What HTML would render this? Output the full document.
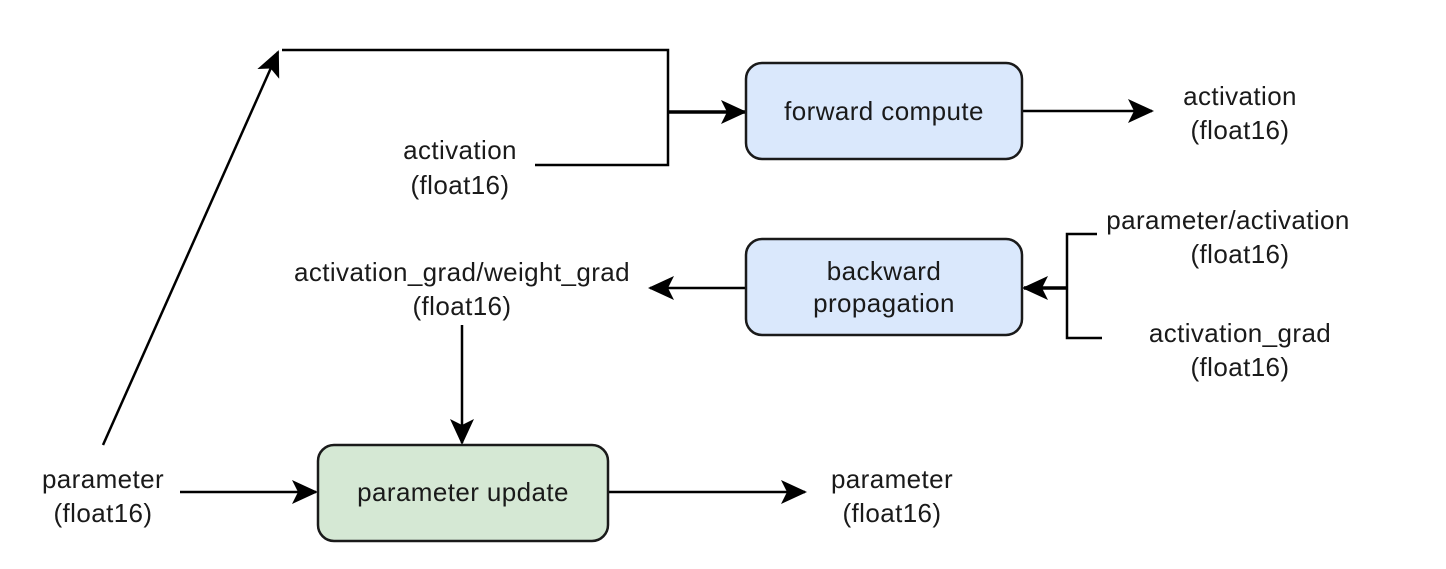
<!DOCTYPE html>
<html><head><style>
body{margin:0;background:#fff;}
svg text{font-family:"Liberation Sans",sans-serif;font-size:26px;letter-spacing:0.4px;fill:#1a1a1a;text-anchor:middle;}
</style></head><body>
<svg width="1446" height="564" viewBox="0 0 1446 564" xmlns="http://www.w3.org/2000/svg">
<defs>
<marker id="b" markerWidth="26" markerHeight="24" refX="24" refY="12" orient="auto" markerUnits="userSpaceOnUse">
<path d="M0,0 L26,12 L0,24 L6,12 Z" fill="#000"/>
</marker>
</defs>
<g stroke="#000" stroke-width="2.5" fill="none">
<polyline points="282,50 668,50 668,165 535,165"/>
<line x1="668" y1="112" x2="745" y2="112" stroke-width="3.5" marker-end="url(#b)"/>
<line x1="1022" y1="111" x2="1152" y2="111" marker-end="url(#b)"/>
<polyline points="1097,234 1067,234 1067,338 1102,338"/>
<line x1="1067" y1="288" x2="1024" y2="288" stroke-width="3.5" marker-end="url(#b)"/>
<line x1="746" y1="288" x2="650" y2="288" marker-end="url(#b)"/>
<line x1="462" y1="325" x2="462" y2="443" marker-end="url(#b)"/>
<line x1="180" y1="492" x2="316" y2="492" marker-end="url(#b)"/>
<line x1="608" y1="492" x2="805" y2="492" marker-end="url(#b)"/>
<line x1="103" y1="445" x2="278" y2="52" marker-end="url(#b)"/>
</g>
<rect x="746" y="63" width="276" height="96" rx="16" fill="#dae8fc" stroke="#1a1a1a" stroke-width="2.5"/>
<rect x="746" y="239" width="276" height="96" rx="16" fill="#dae8fc" stroke="#1a1a1a" stroke-width="2.5"/>
<rect x="318" y="445" width="290" height="96" rx="16" fill="#d5e8d4" stroke="#1a1a1a" stroke-width="2.5"/>
<text x="884" y="120">forward compute</text>
<text x="884" y="280">backward</text>
<text x="884" y="312">propagation</text>
<text x="463" y="501">parameter update</text>
<text x="1240" y="105">activation</text>
<text x="1240" y="139">(float16)</text>
<text x="460" y="159">activation</text>
<text x="460" y="194">(float16)</text>
<text x="462" y="281">activation_grad/weight_grad</text>
<text x="462" y="315">(float16)</text>
<text x="1228" y="229">parameter/activation</text>
<text x="1240" y="263">(float16)</text>
<text x="1240" y="342">activation_grad</text>
<text x="1240" y="376">(float16)</text>
<text x="103" y="488">parameter</text>
<text x="103" y="522">(float16)</text>
<text x="892" y="488">parameter</text>
<text x="892" y="522">(float16)</text>
</svg>
</body></html>
